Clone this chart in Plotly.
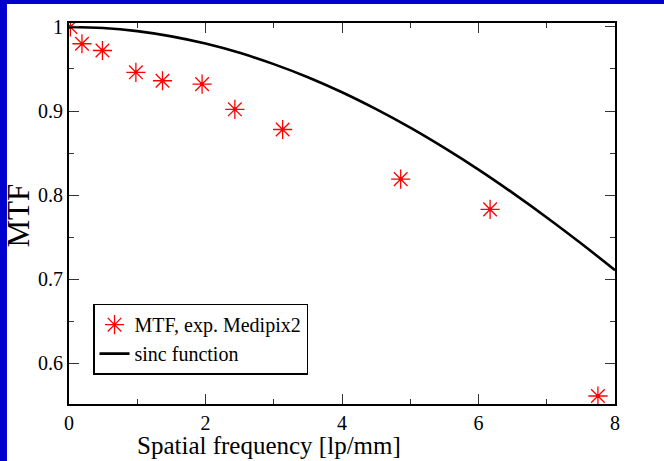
import plotly.graph_objects as go

# Measured MTF of the Medipix2 detector
freq_meas = [0.02, 0.19, 0.49, 0.98, 1.37, 1.95, 2.43, 3.13, 4.86, 6.17, 7.75]
mtf_meas = [1.000, 0.980, 0.972, 0.946, 0.936, 0.932, 0.902, 0.878, 0.819, 0.783, 0.561]

# Pixel-aperture sinc curve, sampled every 0.5 lp/mm
freq_sinc = [0.0, 0.5, 1.0, 1.5, 2.0, 2.5, 3.0, 3.5, 4.0, 4.5, 5.0, 5.5, 6.0, 6.5, 7.0, 7.5, 8.0]
mtf_sinc = [1.000, 0.9988, 0.9950, 0.9888, 0.9802, 0.9692, 0.9558, 0.9402, 0.9223,
            0.9022, 0.8802, 0.8561, 0.8303, 0.8026, 0.7734, 0.7427, 0.7107]

x_ticks = [0, 2, 4, 6, 8]
y_ticks = [0.6, 0.7, 0.8, 0.9, 1.0]
y_tick_text = ["0.6", "0.7", "0.8", "0.9", "1"]

SERIF = "Liberation Serif, Times New Roman, serif"
RED = "#ff0000"
BLUE = "#0000cc"

fig = go.Figure()

fig.add_trace(go.Scatter(
    x=freq_meas, y=mtf_meas, mode="markers", name="MTF, exp. Medipix2",
    marker=dict(symbol="asterisk-open", size=16, color=RED,
                line=dict(color=RED, width=1.3)),
))
fig.add_trace(go.Scatter(
    x=freq_meas, y=mtf_meas, mode="markers", showlegend=False, hoverinfo="skip",
    marker=dict(symbol="circle", size=4, color=RED),
))
fig.add_trace(go.Scatter(
    x=freq_sinc, y=mtf_sinc, mode="lines", name="sinc function",
    line=dict(color="black", width=2.6, shape="spline"),
))

axis_common = dict(
    showline=True, linecolor="black", linewidth=2, mirror="ticks",
    ticks="inside", ticklen=10, tickwidth=1.4, tickcolor="#333333",
    showgrid=False, zeroline=False,
    tickfont=dict(family=SERIF, size=20, color="black"),
)

fig.update_xaxes(
    range=[0, 8], tickvals=x_ticks,
    minor=dict(dtick=1, ticks="inside", ticklen=5, tickwidth=1.4, tickcolor="#333333"),
    **axis_common,
)
fig.update_yaxes(
    range=[0.5515, 1.0047], tickvals=y_ticks, ticktext=y_tick_text,
    minor=dict(dtick=0.05, tick0=0.55, ticks="inside", ticklen=5, tickwidth=1.4,
               tickcolor="#333333"),
    **axis_common,
)

fig.update_layout(
    width=664, height=461,
    margin=dict(l=69, r=49, t=23, b=57),
    paper_bgcolor="white", plot_bgcolor="white",
    showlegend=True,
    legend=dict(
        x=0.044, y=0.077, xanchor="left", yanchor="bottom",
        bgcolor="white", bordercolor="black", borderwidth=1.5,
        font=dict(family=SERIF, size=20, color="black"),
        tracegroupgap=0, itemwidth=30,
    ),
    annotations=[
        dict(text="MTF", xref="paper", yref="paper", x=-0.0919, y=0.494,
             xanchor="center", yanchor="middle", textangle=-90, showarrow=False,
             font=dict(family=SERIF, size=31, color="black")),
        dict(text="Spatial frequency [lp/mm]", xref="paper", yref="paper",
             x=0.367, y=-0.11, xanchor="center", yanchor="middle", showarrow=False,
             font=dict(family=SERIF, size=25, color="black")),
    ],
    shapes=[
        dict(type="rect", xref="paper", yref="paper", x0=-0.2, x1=-0.1136,
             y0=-0.3, y1=1.2, fillcolor=BLUE, line=dict(width=0), layer="above"),
        dict(type="rect", xref="paper", yref="paper", x0=-0.2, x1=1.2,
             y0=1.0499, y1=1.2, fillcolor=BLUE, line=dict(width=0), layer="above"),
    ],
)

fig.write_html("out.html")
